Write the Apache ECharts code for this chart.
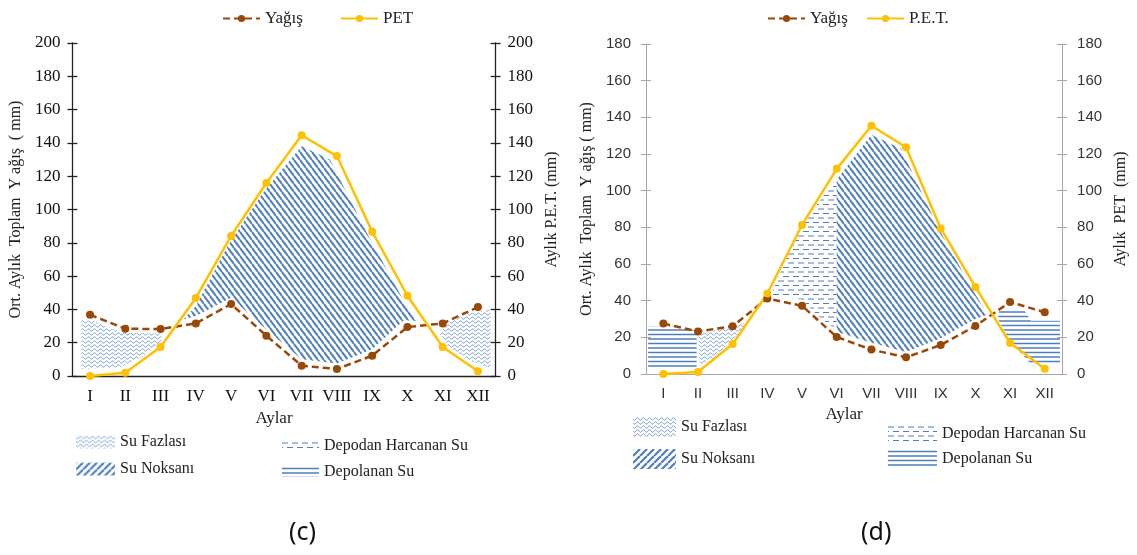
<!DOCTYPE html>
<html>
<head>
<meta charset="utf-8">
<script src="https://cdn.jsdelivr.net/npm/echarts@6/dist/echarts.min.js"></script>
<style>
html, body { margin: 0; padding: 0; background: #ffffff; }
#chartC { position: absolute; left: 0; top: 0; width: 568px; height: 555px; }
#chartD { position: absolute; left: 568px; top: 0; width: 569px; height: 555px; }
</style>
</head>
<body>
<div id="chartC"></div>
<div id="chartD"></div>
<script>

const months = ["I", "II", "III", "IV", "V", "VI", "VII", "VIII", "IX", "X", "XI", "XII"];

// (c)
const yagisC = [36.8, 28.4, 28.2, 31.6, 43.2, 24.2, 6.2, 4.2, 12.2, 29.4, 31.6, 41.4];
const petC = [0, 2, 17.4, 46.9, 84.1, 115.9, 144.6, 132.1, 86.7, 48.2, 17.4, 2.8];

// (d)
const yagisD = [27.5, 23.2, 26.1, 41.2, 37.2, 20.2, 13.3, 9.1, 15.8, 26.2, 39.3, 33.7];
const petD = [0, 1.1, 16.4, 43.9, 81.3, 111.9, 135.4, 123.7, 79.4, 47.5, 16.9, 2.9];

// hatched zones, vertices as [month position (0..12), mm]
const fazlaC = [
    [[0.26, 33.6], [0.6, 33], [1.4, 26], [2.52, 25.6], [2.52, 20.5], [2.0, 11.6], [1.35, 5.2], [0.26, 4]],
    [[10.4, 26], [10.7, 32.5], [11.2, 37.5], [11.85, 40], [11.85, 5], [11.3, 9], [10.65, 17.5]]
];
const noksanC = [
    [[3.15, 34], [3.5, 42], [4.4, 78], [5.4, 110], [6.5, 138], [7.3, 130], [8.4, 84], [9.4, 45], [9.8, 33],
     [9.4, 33.5], [8.5, 16], [7.5, 7.5], [6.5, 10], [5.5, 28], [4.5, 47], [3.5, 36]]
];
const harcananC = [];
const depolananC = [];

const fazlaD = [
    [[1.51, 22], [2.0, 24], [2.5, 26], [2.9, 28], [2.85, 24], [2.5, 19], [2.0, 9], [1.55, 4.5]]
];
const noksanD = [
    [[5.5, 106], [6.5, 130.5], [7.35, 123], [8.45, 79], [9.45, 45], [9.85, 32.5],
     [9.5, 30], [8.5, 19.5], [7.5, 12], [6.5, 17], [5.5, 23]]
];
const harcananD = [
    [[3.6, 43], [4.4, 79], [5.5, 107], [5.5, 24], [5.0, 31], [4.5, 40.5], [4.0, 42]]
];
const depolananD = [
    [[0.06, 26], [0.9, 26], [1.46, 23.5], [1.46, 3.5], [0.06, 3.5]],
    [[10.2, 36], [10.9, 35], [11.1, 29], [11.94, 29], [11.94, 5.5], [11.1, 5.5], [10.5, 18], [10.15, 30]]
];

const BLUE = "#4f7fbd";
const BROWN = "#984807";
const GOLD = "#ffc000";

function makePattern(kind) {

    const c = document.createElement("canvas");
    const ctx = c.getContext("2d");

    if (kind === "diagDown") {
        // "\" stripes used inside the plot
        c.width = 6; c.height = 8;
        ctx.strokeStyle = BLUE;
        ctx.lineWidth = 2;
        for (let k = -1; k <= 1; k++) {
            ctx.beginPath();
            ctx.moveTo(k * 6, 0);
            ctx.lineTo(k * 6 + 6, 8);
            ctx.stroke();
        }
    } else if (kind === "diagUp") {
        // "/" stripes of the legend swatch
        c.width = 7; c.height = 7;
        ctx.strokeStyle = BLUE;
        ctx.lineWidth = 2.2;
        for (let k = -1; k <= 1; k++) {
            ctx.beginPath();
            ctx.moveTo(k * 7, 7);
            ctx.lineTo(k * 7 + 7, 0);
            ctx.stroke();
        }
    } else if (kind === "wave") {
        c.width = 6; c.height = 4;
        ctx.strokeStyle = "#5e8fd0";
        ctx.lineWidth = 0.9;
        ctx.beginPath();
        for (let x = 0; x <= 6; x += 0.5) {
            const y = 2 + 1.2 * Math.sin(x / 6 * Math.PI * 2);
            if (x === 0) ctx.moveTo(x, y); else ctx.lineTo(x, y);
        }
        ctx.stroke();
    } else if (kind === "dash") {
        c.width = 10; c.height = 9;
        ctx.strokeStyle = BLUE;
        ctx.lineWidth = 1;
        ctx.beginPath();
        ctx.moveTo(0, 2); ctx.lineTo(6, 2);
        ctx.moveTo(5, 6.5); ctx.lineTo(10, 6.5);
        ctx.moveTo(0, 6.5); ctx.lineTo(1, 6.5);
        ctx.stroke();
    } else {
        c.width = 4; c.height = 9;
        ctx.strokeStyle = BLUE;
        ctx.lineWidth = 1.4;
        ctx.beginPath();
        ctx.moveTo(0, 1.5); ctx.lineTo(4, 1.5);
        ctx.moveTo(0, 6); ctx.lineTo(4, 6);
        ctx.stroke();
    }

    return { image: c, repeat: "repeat" };
}

const patterns = {
    fazla: makePattern("wave"),
    noksan: makePattern("diagDown"),
    noksanIcon: makePattern("diagUp"),
    harcanan: makePattern("dash"),
    depolanan: makePattern("lines")
};

function zoneSeries(name, polys, pattern) {

    return {
        name: name,
        type: "custom",
        xAxisIndex: 1,
        yAxisIndex: 0,
        z: 1,
        silent: true,
        itemStyle: { color: pattern },
        data: polys.map((p, i) => [p[0][0], p[0][1], i]),
        renderItem: function (params, api) {
            const poly = polys[api.value(2)];
            return {
                type: "polygon",
                shape: { points: poly.map(pt => api.coord(pt)) },
                style: { fill: pattern }
            };
        }
    };
}

function lineSeries(name, data, color, dashed) {

    return {
        name: name,
        type: "line",
        xAxisIndex: 0,
        yAxisIndex: 0,
        z: 5,
        data: data,
        symbol: "circle",
        symbolSize: 8,
        itemStyle: { color: color },
        lineStyle: {
            color: color,
            width: 2.5,
            type: dashed ? [7, 4] : "solid"
        }
    };
}

function buildOption(c) {

    const axisColor = c.axisColor;

    const valueAxis = (pos, showLabel) => ({
        type: "value",
        position: pos,
        min: 0,
        max: c.yMax,
        interval: 20,
        splitLine: { show: false },
        axisLine: { show: showLabel, lineStyle: { color: axisColor, width: c.axisWidth } },
        axisTick: { show: true, inside: !showLabel, length: 5, lineStyle: { color: axisColor, width: c.axisWidth } },
        axisLabel: {
            show: showLabel,
            margin: c.labelMargin,
            color: c.tickColor,
            fontFamily: c.tickFont,
            fontSize: c.tickSize
        }
    });

    const left = valueAxis("left", true);
    left.name = c.leftName;
    left.nameLocation = "middle";
    left.nameGap = c.leftGap;
    left.nameTextStyle = { fontFamily: "Liberation Serif", fontSize: 16, color: "#222" };

    const right = valueAxis("right", true);
    right.name = c.rightName;
    right.nameLocation = "middle";
    right.nameGap = c.rightGap;
    right.nameTextStyle = { fontFamily: "Liberation Serif", fontSize: 16, color: "#222" };

    const xAxes = [
        {
            type: "category",
            data: months,
            position: "bottom",
            name: "Aylar",
            nameLocation: "middle",
            nameGap: c.xNameGap,
            nameTextStyle: { fontFamily: "Liberation Serif", fontSize: 17, color: "#222", padding: [0, 20, 0, 0] },
            axisLine: { lineStyle: { color: axisColor, width: c.axisWidth } },
            axisTick: { length: 6, lineStyle: { color: axisColor, width: c.axisWidth } },
            axisLabel: {
                margin: 12,
                color: c.tickColor,
                fontFamily: c.tickFont,
                fontSize: c.xTickSize,
                interval: 0
            }
        },
        { type: "value", min: 0, max: 12, show: false }
    ];

    if (c.crossX) {
        xAxes.push({
            type: "category",
            data: months,
            position: "bottom",
            axisLine: { show: false },
            axisTick: { inside: true, length: 5, lineStyle: { color: axisColor } },
            axisLabel: { show: false }
        });
    }

    return {
        animation: false,
        backgroundColor: "#ffffff",
        title: {
            text: c.caption,
            left: c.captionLeft,
            top: 515,
            textStyle: { fontFamily: "Noto Sans", fontSize: 25, fontWeight: "normal", color: "#111" }
        },
        legend: [
            {
                data: c.lineNames,
                left: c.legendLeft,
                top: 5,
                itemWidth: 37,
                itemHeight: 9,
                itemGap: c.legendGap,
                textStyle: { fontFamily: "Liberation Serif", fontSize: 17, color: "#222" }
            },
            {
                data: [
                    { name: "Su Fazlası" },
                    { name: "Su Noksanı", itemStyle: { color: patterns.noksanIcon } }
                ],
                orient: "vertical",
                left: c.zoneLeft1,
                top: c.zoneTop1,
                icon: "rect",
                itemWidth: c.zoneW1,
                itemHeight: c.zoneH1,
                itemGap: c.zoneGap1,
                textStyle: { fontFamily: "Liberation Serif", fontSize: 16, color: "#222" }
            },
            {
                data: ["Depodan Harcanan Su", "Depolanan Su"],
                orient: "vertical",
                left: c.zoneLeft2,
                top: c.zoneTop2,
                icon: "rect",
                itemWidth: c.zoneW2,
                itemHeight: c.zoneH2,
                itemGap: c.zoneGap2,
                textStyle: { fontFamily: "Liberation Serif", fontSize: 16, color: "#222" }
            }
        ],
        grid: { left: c.grid[0], right: c.grid[1], top: c.grid[2], bottom: c.grid[3] },
        xAxis: xAxes,
        yAxis: [left, right, valueAxis("left", false), valueAxis("right", false)],
        series: [
            zoneSeries("Su Fazlası", c.fazla, patterns.fazla),
            zoneSeries("Su Noksanı", c.noksan, patterns.noksan),
            zoneSeries("Depodan Harcanan Su", c.harcanan, patterns.harcanan),
            zoneSeries("Depolanan Su", c.depolanan, patterns.depolanan),
            lineSeries(c.lineNames[0], c.yagis, BROWN, true),
            lineSeries(c.lineNames[1], c.pet, GOLD, false)
        ]
    };
}

const chartC = echarts.init(document.getElementById("chartC"));
chartC.setOption(buildOption({
    caption: "(c)", captionLeft: 284,
    yMax: 200,
    axisColor: "#222", axisWidth: 1.3,
    tickColor: "#111", tickFont: "Liberation Serif", tickSize: 17, xTickSize: 17,
    labelMargin: 12,
    leftName: "Ort. Aylık  Toplam  Y ağış  ( mm)", leftGap: 46,
    rightName: "Aylık P.E.T. (mm)", rightGap: 44,
    xNameGap: 33,
    crossX: false,
    lineNames: ["Yağış", "PET"], legendLeft: 217, legendGap: 37,
    zoneLeft1: 71, zoneTop1: 429, zoneW1: 39, zoneH1: 13, zoneGap1: 11,
    zoneLeft2: 277, zoneTop2: 433, zoneW2: 37, zoneH2: 10, zoneGap2: 10,
    grid: [68, 65, 43, 179],
    yagis: yagisC, pet: petC,
    fazla: fazlaC, noksan: noksanC, harcanan: harcananC, depolanan: depolananC
}));

const chartD = echarts.init(document.getElementById("chartD"));
chartD.setOption(buildOption({
    caption: "(d)", captionLeft: 288,
    yMax: 180,
    axisColor: "#a6a6a6", axisWidth: 1,
    tickColor: "#333333", tickFont: "Liberation Sans", tickSize: 15, xTickSize: 15,
    labelMargin: 15,
    leftName: "Ort. Aylık  Toplam  Y ağış ( mm)", leftGap: 49,
    rightName: "Aylık  PET  (mm)", rightGap: 46,
    xNameGap: 31,
    crossX: true,
    lineNames: ["Yağış", "P.E.T."], legendLeft: 194, legendGap: 18,
    zoneLeft1: 60, zoneTop1: 412, zoneW1: 43, zoneH1: 20, zoneGap1: 12,
    zoneLeft2: 315, zoneTop2: 420, zoneW2: 49, zoneH2: 18, zoneGap2: 7,
    grid: [78, 62, 44, 181],
    yagis: yagisD, pet: petD,
    fazla: fazlaD, noksan: noksanD, harcanan: harcananD, depolanan: depolananD
}));

</script>
</body>
</html>
